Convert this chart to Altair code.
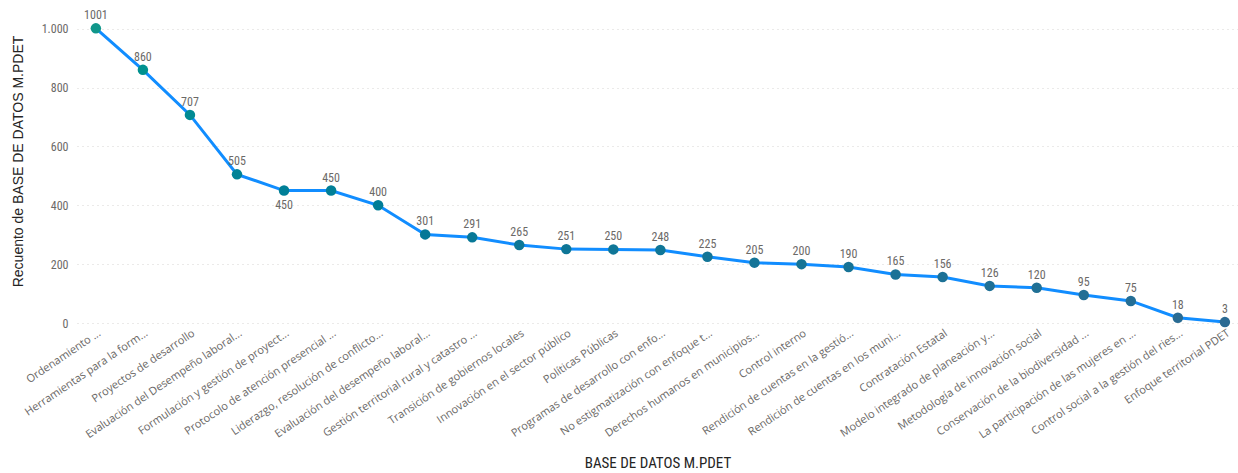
import altair as alt
import pandas as pd

# Course names (truncated as shown on the axis) and their record counts
cursos = [
    "Ordenamiento ...",
    "Herramientas para la form...",
    "Proyectos de desarrollo",
    "Evaluación del Desempeño laboral...",
    "Formulación y gestión de proyect...",
    "Protocolo de atención presencial ...",
    "Liderazgo, resolución de conflicto...",
    "Evaluación del desempeño laboral...",
    "Gestión territorial rural y catastro ...",
    "Transición de gobiernos locales",
    "Innovación en el sector público",
    "Políticas Públicas",
    "Programas de desarrollo con enfo...",
    "No estigmatización con enfoque t...",
    "Derechos humanos en municipios...",
    "Control interno",
    "Rendición de cuentas en la gestió...",
    "Rendición de cuentas en los muni...",
    "Contratación Estatal",
    "Modelo integrado de planeación y...",
    "Metodología de innovación social",
    "Conservación de la biodiversidad ...",
    "La participación de las mujeres en ...",
    "Control social a la gestión del ries...",
    "Enfoque territorial PDET",
]
recuento = [1001, 860, 707, 505, 450, 450, 400, 301, 291, 265, 251, 250, 248,
            225, 205, 200, 190, 165, 156, 126, 120, 95, 75, 18, 3]

# Labels drawn under their point instead of above it
etiquetas_abajo = ["Formulación y gestión de proyect..."]

df = pd.DataFrame({"curso": cursos, "recuento": recuento})
df["abajo"] = df["curso"].isin(etiquetas_abajo)

label_font = "Open Sans"
din_font = "Liberation Sans Narrow, Roboto Condensed, Roboto"

x_enc = alt.X(
    "curso:N",
    sort=cursos,
    scale=alt.Scale(type="point", padding=0.34, align=0.59),
    axis=alt.Axis(
        title="BASE DE DATOS M.PDET",
        titleFont=din_font,
        titleFontSize=15,
        titleFontWeight="normal",
        titleColor="#252423",
        titleY=132,
        labelAngle=-34,
        labelAlign="right",
        labelBaseline="top",
        labelFont=label_font,
        labelFontSize=11,
        labelColor="#6B6967",
        labelPadding=4,
        labelOverlap=False,
        labelLimit=0,
        ticks=False,
        domain=False,
        grid=False,
    ),
)

y_enc = alt.Y(
    "recuento:Q",
    scale=alt.Scale(domain=[0, 1060], nice=False),
    axis=alt.Axis(
        title="Recuento de BASE DE DATOS M.PDET",
        titleFont="Liberation Sans",
        titleFontSize=14,
        titleFontWeight="normal",
        titleColor="#252423",
        titleX=-59,
        titleY=150,
        titleBaseline="middle",
        values=[0, 200, 400, 600, 800, 1000],
        labelExpr="replace(format(datum.value, ','), ',', '.')",
        labelFont=din_font,
        labelFontSize=12,
        labelColor="#6B6967",
        labelPadding=9,
        ticks=False,
        domain=False,
        grid=True,
        gridColor="#D6D4D2",
        gridDash=[1, 4],
        gridWidth=1,
    ),
)

base = alt.Chart(df).encode(x=x_enc, y=y_enc)

linea = base.mark_line(color="#118DFF", strokeWidth=3)

puntos = base.mark_point(filled=True, size=110, opacity=1).encode(
    color=alt.Color(
        "recuento:Q",
        scale=alt.Scale(domain=[0, 1001], range=["#2B6A93", "#10968A"]),
        legend=None,
    )
)

texto_arriba = base.transform_filter("!datum.abajo").mark_text(
    dy=-13, font=din_font, fontSize=12, color="#6B6967"
).encode(text="recuento:Q")

texto_abajo = base.transform_filter("datum.abajo").mark_text(
    dy=14, font=din_font, fontSize=12, color="#6B6967"
).encode(text="recuento:Q")

chart = (
    alt.layer(linea, puntos, texto_arriba, texto_abajo)
    .properties(
        width=1161,
        height=312,
        autosize=alt.AutoSizeParams(type="none"),
        padding={"left": 77, "top": 11, "right": 0, "bottom": 150},
        background="#FFFFFF",
    )
    .configure_view(stroke=None)
)

chart.save("out.html", embed_options={"renderer": "svg", "actions": False})
